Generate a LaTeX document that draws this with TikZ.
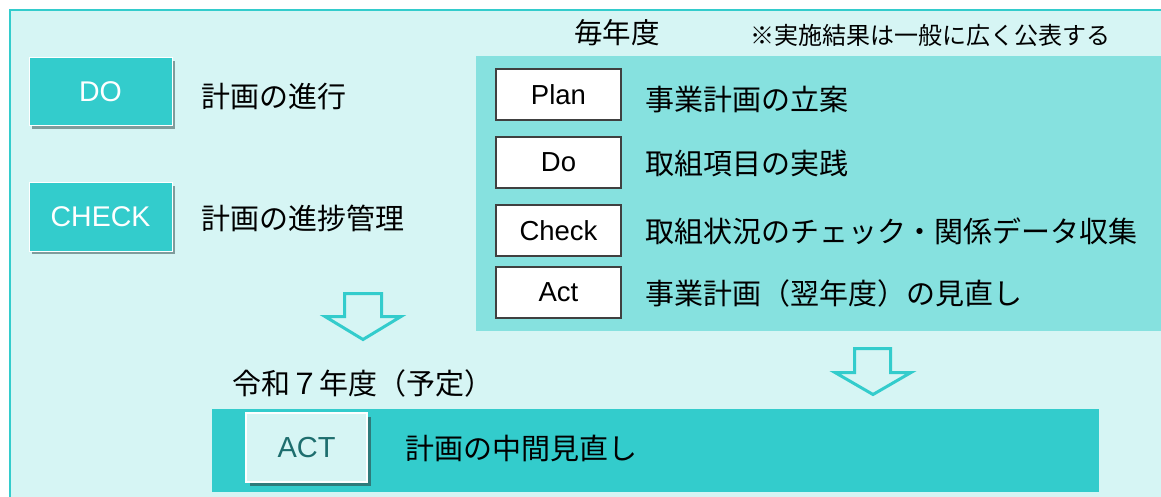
\documentclass[tikz,border=0pt]{standalone}
\usepackage{fontspec}
\setmainfont{Liberation Sans}
\newfontfamily\jp{Noto Sans CJK JP}
\usetikzlibrary{shadows}
\definecolor{bgc}{HTML}{D6F5F4}
\definecolor{tealc}{HTML}{33CCCC}
\definecolor{panelc}{HTML}{86E1DF}
\definecolor{darkt}{HTML}{1E6E6E}
\definecolor{shdc}{HTML}{2E7B7B}
\definecolor{grshd}{HTML}{7F9C9C}
\begin{document}
\begin{tikzpicture}[x=1pt,y=-1pt,
  jptext/.style={anchor=west,inner sep=0pt,font=\jp\fontsize{29}{29}\selectfont},
  jpsmall/.style={anchor=west,inner sep=0pt,font=\jp\fontsize{24}{24}\selectfont},
  bigbox/.style={minimum width=143pt,minimum height=68pt,inner sep=0pt,draw=white,line width=1pt,fill=tealc,text=white,font=\fontsize{28.5}{28.5}\selectfont,
    drop shadow={shadow xshift=3pt,shadow yshift=-3pt,fill=grshd,opacity=1}},
  pdcabox/.style={minimum width=125pt,minimum height=51pt,inner sep=0pt,draw=black!75,line width=1.2pt,fill=white,font=\fontsize{27.5}{27.5}\selectfont},
  actbox/.style={minimum width=121pt,minimum height=69pt,inner sep=0pt,draw=white,line width=1.5pt,fill=bgc,text=darkt,font=\fontsize{29}{29}\selectfont,
    drop shadow={shadow xshift=4pt,shadow yshift=-4pt,fill=shdc,opacity=1}},
  hollowarrow/.style={draw=tealc,line width=3pt,line join=miter,fill=bgc}]
\useasboundingbox (0,0) rectangle (1161,497);
% background frame
\fill[white] (0,0) rectangle (1161,497);
\fill[bgc] (10,10) rectangle (1161,497);
\draw[tealc,line width=2.5pt] (1161,10) -- (10,10) -- (10,497);
% top-right panel
\fill[panelc] (476,56) rectangle (1161,331);
% headings
\node[anchor=center,inner sep=0pt,font=\jp\fontsize{28.5}{28.5}\selectfont] (maitoshi) at (617,33) {毎年度};
\node[jpsmall] (note) at (750,35) {※実施結果は一般に広く公表する};
% left boxes
\node[bigbox] (do) at (100.5,92) {DO};
\node[jptext] (dotext) at (201,97) {計画の進行};
\node[bigbox] (check) at (100.5,217) {CHECK};
\node[jptext] (checktext) at (201,218) {計画の進捗管理};
% PDCA boxes
\node[pdcabox] (plan) at (558.5,94.5) {Plan};
\node[jptext] (plantext) at (645,100) {事業計画の立案};
\node[pdcabox] (do2) at (558.5,162.5) {Do};
\node[jptext] (do2text) at (645,163) {取組項目の実践};
\node[pdcabox] (check2) at (558.5,230.5) {Check};
\node[jptext] (check2text) at (645,231) {取組状況のチェック・関係データ収集};
\node[pdcabox] (act2) at (558.5,292.5) {Act};
\node[jptext] (act2text) at (645,293) {事業計画（翌年度）の見直し};
% arrows
\draw[hollowarrow] (344.5,293.5) -- (381.5,293.5) -- (381.5,316.5) -- (401,316.5) -- (363,339.5) -- (325,316.5) -- (344.5,316.5) -- cycle;
\draw[hollowarrow] (854.5,348.5) -- (890.5,348.5) -- (890.5,372.5) -- (911,372.5) -- (873,394.5) -- (835,372.5) -- (854.5,372.5) -- cycle;
% bottom
\node[jptext] (reiwa) at (232,383) {令和７年度（予定）};
\fill[tealc] (212,409) rectangle (1099,492);
\node[actbox] (act) at (306.5,447.5) {ACT};
\node[jptext] (acttext) at (405,448) {計画の中間見直し};
\end{tikzpicture}
\end{document}
